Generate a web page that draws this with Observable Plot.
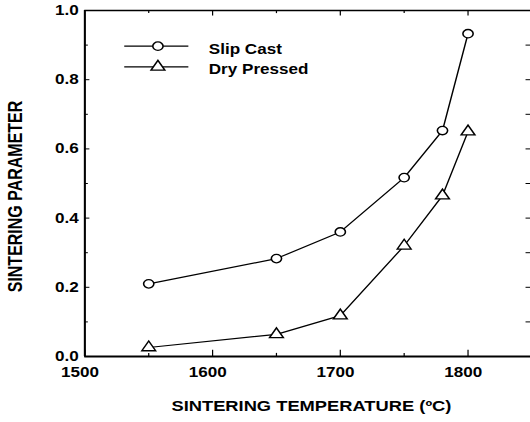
<!DOCTYPE html>
<html>
<head>
<meta charset="utf-8">
<script src="https://cdn.jsdelivr.net/npm/d3@7"></script>
<script src="https://cdn.jsdelivr.net/npm/@observablehq/plot@0.6"></script>
<style>
  html, body { margin: 0; padding: 0; background: #fff; }
  #chart svg { display: block; }
</style>
</head>
<body>
<div id="chart"></div>
<script>
// ---- data ----
const seriesNames = ["Slip Cast", "Dry Pressed"];
const temperatures = [1550, 1650, 1700, 1750, 1780, 1800];
const slipCast = [0.21, 0.283, 0.36, 0.517, 0.653, 0.933];
const dryPressed = [0.026, 0.064, 0.118, 0.32, 0.465, 0.65];
const xTickLabels = [1500, 1600, 1700, 1800];
const yTickLabels = [0.0, 0.2, 0.4, 0.6, 0.8, 1.0];
const xMinorTicks = [1550, 1650, 1750];
const yMinorTicks = [0.1, 0.3, 0.5, 0.7, 0.9];
const xLabel = "SINTERING TEMPERATURE (\u00BAC)";
const yLabel = "SINTERING PARAMETER";

const rows = [];
temperatures.forEach((t, i) => {
  rows.push({series: seriesNames[0], t, v: slipCast[i]});
  rows.push({series: seriesNames[1], t, v: dryPressed[i]});
});

// legend layout (in data units of the frame)
const legendRows = seriesNames.map((name, i) => ({name, y: 0.897 - i * 0.06}));

const W = 434, H = 422; // drawn then stretched horizontally to 530
const font = "'Liberation Sans', Arial, Helvetica, sans-serif";
const xDomain = [1500, 1849];

const svg = Plot.plot({
  width: W,
  height: H,
  marginLeft: 69,
  marginRight: 0,
  marginTop: 10,
  marginBottom: 66,
  style: {fontFamily: font, fontWeight: "bold", background: "white", color: "black"},
  x: {domain: xDomain},
  y: {domain: [0, 1]},
  symbol: {domain: seriesNames, range: ["circle", "triangle"]},
  marks: [
    // frame spines
    Plot.ruleY([0], {stroke: "black", strokeWidth: 2}),
    Plot.ruleY([1], {stroke: "black", strokeWidth: 1.5}),
    Plot.ruleX([1500], {stroke: "black", strokeWidth: 1.7}),
    // inward ticks: bottom
    Plot.ruleX(xTickLabels, {x: d => d, y1: 0, y2: 0.018, stroke: "black", strokeWidth: 1}),
    Plot.ruleX(xMinorTicks, {x: d => d, y1: 0, y2: 0.009, stroke: "black", strokeWidth: 1}),
    // top
    Plot.ruleX(xTickLabels.slice(1), {x: d => d, y1: 1, y2: 0.984, stroke: "black", strokeWidth: 1}),
    Plot.ruleX(xMinorTicks, {x: d => d, y1: 1, y2: 0.991, stroke: "black", strokeWidth: 1}),
    // left
    Plot.ruleY(yTickLabels, {y: d => d, x1: 1500, x2: 1504, stroke: "black", strokeWidth: 1}),
    Plot.ruleY(yMinorTicks, {y: d => d, x1: 1500, x2: 1502.8, stroke: "black", strokeWidth: 1}),
    // right
    Plot.ruleY(yTickLabels.slice(1, -1).concat(yMinorTicks), {y: d => d, x1: 1845.5, x2: 1849, stroke: "black", strokeWidth: 1}),
    // tick labels
    Plot.axisX({ticks: xTickLabels, tickSize: 0, tickPadding: 11, tickFormat: d => String(d), fontSize: 14, fontWeight: "bold", dx: -4, label: null}),
    Plot.axisY({ticks: yTickLabels, tickSize: 0, tickPadding: 5, tickFormat: d3.format(".1f"), fontSize: 14, fontWeight: "bold", label: null}),
    // axis titles
    Plot.text([xLabel], {frameAnchor: "bottom", text: d => d, dy: 50, dx: 3, fontSize: 15, fontWeight: "bold", lineAnchor: "middle", textAnchor: "middle"}),
    Plot.text([yLabel], {frameAnchor: "left", text: d => d, rotate: -90, dx: -56.5, dy: 13, fontSize: 16, fontWeight: "bold", lineAnchor: "middle", textAnchor: "middle"}),
    // data
    Plot.line(rows, {x: "t", y: "v", z: "series", stroke: "black", strokeWidth: 1.2}),
    Plot.dot(rows, {x: "t", y: "v", symbol: "series", r: 4.2, fill: "white", stroke: "black", strokeWidth: 1.3}),
    // legend
    Plot.ruleY(legendRows, {y: "y", x1: 1531.3, x2: 1581.5, stroke: "black", strokeWidth: 1.3}),
    Plot.dot(legendRows, {x: 1557.2, y: "y", symbol: "name", r: 4.2, fill: "white", stroke: "black", strokeWidth: 1.3}),
    Plot.text(legendRows, {x: 1597, y: "y", text: "name", textAnchor: "start", dy: 3, fontSize: 14, fontWeight: "bold"})
  ]
});

// The reference is horizontally stretched; stretch the drawing to 530 px wide.
svg.setAttribute("viewBox", `0 0 ${W} ${H}`);
svg.setAttribute("preserveAspectRatio", "none");
svg.setAttribute("width", 530);
svg.setAttribute("height", H);
svg.style.width = "530px";
svg.style.height = H + "px";
svg.style.maxWidth = "none";
document.getElementById("chart").appendChild(svg);
</script>
</body>
</html>
